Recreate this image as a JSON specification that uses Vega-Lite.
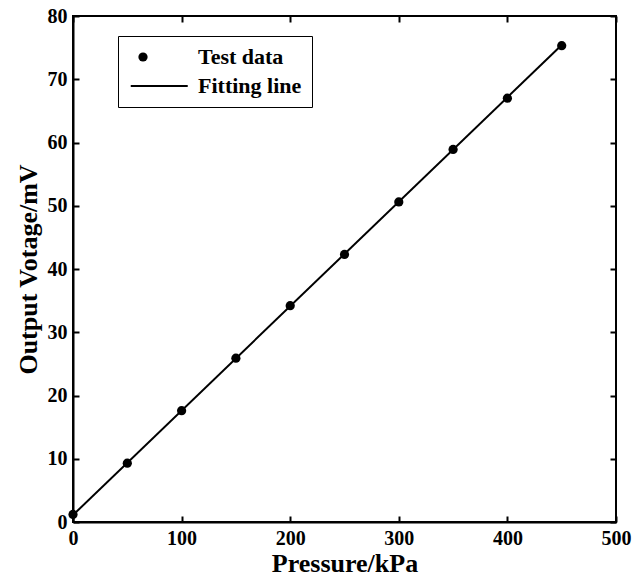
{
  "$schema": "https://vega.github.io/schema/vega-lite/v6.json",
  "width": 543,
  "height": 506,
  "autosize": {"type": "none"},
  "padding": {"left": 73, "top": 16, "right": 28, "bottom": 55},
  "background": "white",
  "config": {
    "view": {"stroke": "black", "strokeWidth": 2},
    "font": "Liberation Serif",
    "axis": {
      "domainColor": "black", "domainWidth": 2, "ticks": true, "tickColor": "black", "tickWidth": 2, "tickSize": -6, "tickOpacity": 1, "zindex": 1,
      "grid": false, "labelFlush": false, "labelOverlap": false,
      "labelFont": "Liberation Serif", "labelFontSize": 20, "labelFontWeight": "bold", "labelColor": "black",
      "titleFont": "Liberation Serif", "titleFontSize": 26, "titleFontWeight": "bold", "titleColor": "black"
    },
    "legend": {
      "orient": "none", "legendX": 45, "legendY": 20, "title": null,
      "strokeColor": "black", "fillColor": "white", "padding": 10,
      "labelFont": "Liberation Serif", "labelFontSize": 22, "labelFontWeight": "bold", "labelColor": "black",
      "rowPadding": 3, "labelOffset": 40
    }
  },
  "datasets": {
    "pts": [
      {"p": 0, "v": 1.2, "s": "Test data"},
      {"p": 50, "v": 9.3, "s": "Test data"},
      {"p": 100, "v": 17.6, "s": "Test data"},
      {"p": 150, "v": 25.9, "s": "Test data"},
      {"p": 200, "v": 34.2, "s": "Test data"},
      {"p": 250, "v": 42.3, "s": "Test data"},
      {"p": 300, "v": 50.6, "s": "Test data"},
      {"p": 350, "v": 58.9, "s": "Test data"},
      {"p": 400, "v": 67.0, "s": "Test data"},
      {"p": 450, "v": 75.3, "s": "Test data"}
    ],
    "fit": [
      {"p": 0, "v": 1.1},
      {"p": 450, "v": 75.4}
    ]
  },
  "layer": [
    {
      "data": {"name": "fit"},
      "mark": {"type": "line", "color": "black", "strokeWidth": 2},
      "encoding": {
        "x": {"field": "p", "type": "quantitative", "scale": {"domain": [0, 500], "nice": false},
              "axis": {"title": "Pressure/kPa", "tickCount": 5, "labelPadding": 12, "titlePadding": 2}},
        "y": {"field": "v", "type": "quantitative", "scale": {"domain": [0, 80], "nice": false},
              "axis": {"title": "Output Votage/mV", "tickCount": 8, "labelPadding": 12, "titlePadding": 6}}
      }
    },
    {
      "data": {"name": "pts"},
      "mark": {"type": "point", "filled": true, "color": "black", "opacity": 1},
      "encoding": {
        "x": {"field": "p", "type": "quantitative",
              "axis": {"orient": "top", "title": null, "labels": false, "domain": false, "tickCount": 5}},
        "y": {"field": "v", "type": "quantitative",
              "axis": {"orient": "right", "title": null, "labels": false, "domain": false, "tickCount": 8}},
        "shape": {"field": "s", "type": "nominal",
                  "scale": {"domain": ["Test data", "Fitting line"], "range": ["circle", "M-0.86,-0.07H3.14V0.07H-0.86Z"]}},
        "size": {"field": "s", "type": "nominal",
                 "scale": {"domain": ["Test data", "Fitting line"], "range": [85, 812]}}
      }
    }
  ],
  "resolve": {"axis": {"x": "independent", "y": "independent"}}
}
